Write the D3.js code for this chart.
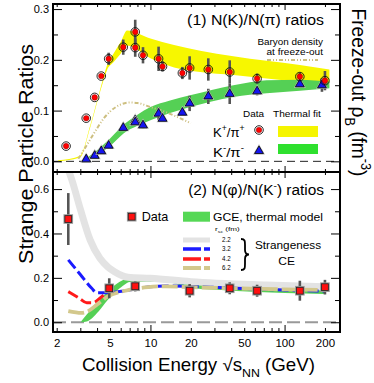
<!DOCTYPE html>
<html>
<head>
<meta charset="utf-8">
<script src="https://cdn.jsdelivr.net/npm/d3@7"></script>
<style>
body { margin: 0; background: #fff; }
text { font-family: "Liberation Sans", Arial, Helvetica, sans-serif; }
</style>
</head>
<body>
<svg id="chart" width="374" height="383"></svg>
<script>
// ---- data ----
// panel 1: K+/pi+ (circles) and K-/pi- (triangles)
var kpE   = [2.35, 3.32, 3.84, 4.3, 4.88, 6.27, 7.7, 7.7, 8.8, 11.5, 12.3, 17.3, 19.6, 27, 39, 62.4, 130, 200];
var kpVal = [0.030, 0.085, 0.126, 0.168, 0.202, 0.225, 0.255, 0.224, 0.209, 0.202, 0.187, 0.174, 0.184, 0.181, 0.176, 0.163, 0.167, 0.159];
var kpErr = [0, 0, 0, 0, 0.012, 0.015, 0.024, 0.018, 0.016, 0.024, 0.01, 0.012, 0.023, 0.022, 0.023, 0.01, 0.008, 0.019];

var kmE   = [3.32, 3.84, 4.3, 4.88, 6.27, 7.7, 7.7, 8.8, 11.5, 12.3, 17.3, 19.6, 27, 39, 62.4, 130, 190];
var kmVal = [0.004, 0.011, 0.020, 0.031, 0.066, 0.081, 0.077, 0.071, 0.094, 0.084, 0.096, 0.114, 0.128, 0.133, 0.138, 0.152, 0.150];
var kmErr = [0, 0, 0, 0, 0.005, 0.008, 0, 0.006, 0.012, 0.006, 0.006, 0.015, 0.015, 0.02, 0.008, 0, 0.013];

// thermal fit bands, panel 1
var yelE  = [2.05, 3.0, 3.55, 4.3, 4.75, 5.3, 6.0, 6.7, 10, 15, 23.5, 41.5, 73.5, 130, 216];
var yelLo = [0, 0.008, 0.066, 0.145, 0.180, 0.195, 0.212, 0.228, 0.203, 0.185, 0.176, 0.170, 0.163, 0.157, 0.155];
var yelHi = [0.002, 0.011, 0.070, 0.150, 0.190, 0.212, 0.235, 0.258, 0.242, 0.229, 0.218, 0.207, 0.198, 0.190, 0.181];

var grnE  = [3.15, 4.0, 5.0, 6.3, 8.0, 10, 14, 19.7, 41.5, 73.5, 130, 216];
var grnLo = [0, 0.012, 0.030, 0.055, 0.070, 0.081, 0.095, 0.107, 0.127, 0.134, 0.139, 0.144];
var grnHi = [0.002, 0.022, 0.045, 0.072, 0.092, 0.107, 0.120, 0.130, 0.150, 0.160, 0.161, 0.157];

// baryon density at freeze-out (drawn on the left scale)
var rhoE   = [2.9, 3.5, 4.0, 4.5, 5.0, 6.0, 7.0, 8.0, 10, 13, 16, 20];
var rhoVal = [0.005, 0.040, 0.065, 0.085, 0.098, 0.112, 0.116, 0.115, 0.107, 0.097, 0.087, 0.075];

// panel 2: phi/K- data
var phiE   = [2.44, 4.93, 7.7, 19.6, 39, 62.4, 130, 200];
var phiVal = [0.465, 0.153, 0.162, 0.142, 0.153, 0.142, 0.142, 0.158];
var phiErr = [0.117, 0.045, 0.023, 0.03, 0.027, 0.027, 0.045, 0.033];

// GCE thermal model band
var gceE  = [3.05, 3.35, 4.1, 4.8, 5.9, 7.2, 12.8, 20, 40, 100, 200];
var gceLo = [0.0, 0.003, 0.048, 0.100, 0.153, 0.183, 0.183, 0.155, 0.142, 0.132, 0.127];
var gceHi = [0.005, 0.035, 0.093, 0.138, 0.182, 0.203, 0.198, 0.180, 0.165, 0.152, 0.143];

// strangeness canonical curves, r_sc = 2.2, 3.2, 4.2, 6.2 fm
var ce22E = [2.2, 2.4, 2.6, 3.0, 3.55, 4.2, 4.8, 5.4, 6.8, 10, 20, 73, 200];
var ce22V = [0.76, 0.70, 0.64, 0.51, 0.371, 0.288, 0.25, 0.228, 0.203, 0.198, 0.183, 0.168, 0.160];
var ce32E = [2.44, 3.0, 3.65, 3.98, 4.78, 6.5, 9.3, 13, 28, 50, 88, 200];
var ce32V = [0.281, 0.215, 0.153, 0.133, 0.133, 0.142, 0.158, 0.163, 0.158, 0.152, 0.146, 0.140];
var ce42E = [2.44, 2.95, 3.35, 3.72, 4.33, 4.7, 5.2];
var ce42V = [0.138, 0.108, 0.088, 0.088, 0.115, 0.130, 0.135];
var ce62E = [2.44, 3.05, 3.43, 4.0, 4.78, 6.5, 9.6, 13, 20, 41, 100, 200];
var ce62V = [0.050, 0.042, 0.050, 0.080, 0.115, 0.142, 0.158, 0.162, 0.158, 0.153, 0.148, 0.145];

var rscLabels = ["2.2", "3.2", "4.2", "6.2"];

// ticks
var xLabelTicks = [2, 5, 10, 20, 50, 100, 200];
var xMinorTicks = [2, 3, 4, 5, 6, 7, 8, 9, 20, 30, 40, 50, 60, 70, 80, 90, 200];
var xMajorTicks = [10, 100];
var yTopMajor = [0, 0.1, 0.2, 0.3], yTopMinor = [0.05, 0.15, 0.25];
var yBotMajor = [0, 0.2, 0.4, 0.6], yBotMinor = [0.1, 0.3, 0.5];

// ---- layout ----
var L = 53, R = 340, T = 4, MID = 172, B = 332;
var svg = d3.select("#chart");
svg.append("rect").attr("width", 374).attr("height", 383).attr("fill", "#fff");

var x = d3.scaleLog().domain([1.877, 259]).range([L, R]);
var yTop = d3.scaleLinear().domain([-0.021, 0.31]).range([MID, T]);
var yBot = d3.scaleLinear().domain([-0.044, 0.677]).range([B, MID]);

var defs = svg.append("defs");
defs.append("clipPath").attr("id", "clipTop").append("rect")
  .attr("x", L).attr("y", T).attr("width", R - L).attr("height", MID - T);
defs.append("clipPath").attr("id", "clipBot").append("rect")
  .attr("x", L).attr("y", MID).attr("width", R - L).attr("height", B - MID);

var colYellow = "#f7f700", colGreen = "#55d055", colKhaki = "#d3c88c";

function zip(E, a, b) {
  return E.map(function(e, i) { return {e: e, a: a[i], b: b ? b[i] : 0}; });
}

function band(g, y, E, lo, hi, fill) {
  g.append("path").datum(zip(E, lo, hi))
    .attr("d", d3.area().x(function(d) { return x(d.e); })
      .y0(function(d) { return y(d.a); }).y1(function(d) { return y(d.b); })
      .curve(d3.curveMonotoneX))
    .attr("fill", fill);
}

function curve(g, y, E, v, stroke, w, dash) {
  g.append("path").datum(zip(E, v))
    .attr("d", d3.line().x(function(d) { return x(d.e); }).y(function(d) { return y(d.a); })
      .curve(d3.curveMonotoneX))
    .attr("fill", "none").attr("stroke", stroke).attr("stroke-width", w)
    .attr("stroke-dasharray", dash || null);
}

function errBars(g, y, E, v, err) {
  g.selectAll(null).data(zip(E, v, err).filter(function(d) { return d.b > 0; }))
    .join("line")
    .attr("x1", function(d) { return x(d.e); }).attr("x2", function(d) { return x(d.e); })
    .attr("y1", function(d) { return y(d.a - d.b); }).attr("y2", function(d) { return y(d.a + d.b); })
    .attr("stroke", "#555").attr("stroke-width", 2.6);
}

function circleMark(g, cx, cy) {
  g.append("circle").attr("cx", cx).attr("cy", cy).attr("r", 4.3)
    .attr("fill", "none").attr("stroke", "#111").attr("stroke-width", 0.9);
  g.append("circle").attr("cx", cx).attr("cy", cy).attr("r", 2.8)
    .attr("fill", "#ff0000").attr("stroke", "#700").attr("stroke-width", 0.4);
}

var tri = d3.symbol().type(d3.symbolTriangle);
function triMark(g, cx, cy) {
  g.append("path").attr("d", tri.size(62)()).attr("transform", "translate(" + cx + "," + cy + ")")
    .attr("fill", "#bbb");
  g.append("path").attr("d", tri.size(34)()).attr("transform", "translate(" + cx + "," + cy + ")")
    .attr("fill", "#1515f0").attr("stroke", "#000").attr("stroke-width", 0.8);
}

function squareMark(g, cx, cy) {
  g.append("rect").attr("x", cx - 4.8).attr("y", cy - 4.8).attr("width", 9.6).attr("height", 9.6)
    .attr("fill", "#9a9a9a");
  g.append("rect").attr("x", cx - 3.4).attr("y", cy - 3.4).attr("width", 6.8).attr("height", 6.8)
    .attr("fill", "#ff1010").attr("stroke", "#222").attr("stroke-width", 0.8);
}

// rich text: parts are strings or {t, sub|sup}; width stretches text along its baseline
function label(px, py, parts, o) {
  var g = svg.append("g").attr("transform", "translate(" + px + "," + py + ")");
  var t = g.append("text").attr("font-size", o.size).attr("text-anchor", o.anchor || "start")
    .attr("fill", "#000");
  var shift = 0;
  parts.forEach(function(p) {
    var s = typeof p === "string" ? {t: p} : p;
    var target = s.sub ? o.size * 0.32 : (s.sup ? -o.size * 0.42 : 0);
    var sp = t.append("tspan").text(s.t).attr("dy", target - shift);
    if (s.sub || s.sup) sp.attr("font-size", o.size * 0.66);
    shift = target;
  });
  var sx = 1;
  if (o.width) sx = o.width / t.node().getBBox().width;
  t.attr("transform", "rotate(" + (o.rot || 0) + ") scale(" + sx + ",1)");
  return t;
}

// ---- panel 1 ----
var topG = svg.append("g").attr("clip-path", "url(#clipTop)");
topG.append("line").attr("x1", L).attr("x2", R).attr("y1", yTop(0)).attr("y2", yTop(0))
  .attr("stroke", "#222").attr("stroke-width", 1).attr("stroke-dasharray", "8,5");
band(topG, yTop, yelE, yelLo, yelHi, colYellow);
band(topG, yTop, grnE, grnLo, grnHi, colGreen);
curve(topG, yTop, rhoE, rhoVal, "#cdbf80", 2, "4,2,1,2,1,2");
errBars(topG, yTop, kpE, kpVal, kpErr);
errBars(topG, yTop, kmE, kmVal, kmErr);
kmE.forEach(function(e, i) { triMark(topG, x(e), yTop(kmVal[i])); });
kpE.forEach(function(e, i) { circleMark(topG, x(e), yTop(kpVal[i])); });

// ---- panel 2 ----
var botG = svg.append("g").attr("clip-path", "url(#clipBot)");
botG.append("line").attr("x1", L).attr("x2", R).attr("y1", yBot(0)).attr("y2", yBot(0))
  .attr("stroke", "#999").attr("stroke-width", 2).attr("stroke-dasharray", "13,5");
band(botG, yBot, gceE, gceLo, gceHi, colGreen);
curve(botG, yBot, ce22E, ce22V, "#e3e3e3", 7);
curve(botG, yBot, ce42E, ce42V, "#ff1a1a", 3, "11,4");
curve(botG, yBot, ce32E, ce32V, "#1a1aff", 3, "11,4");
curve(botG, yBot, ce62E, ce62V, colKhaki, 3.8, "16,4");
errBars(botG, yBot, phiE, phiVal, phiErr);
phiE.forEach(function(e, i) { squareMark(botG, x(e), yBot(phiVal[i])); });

// ---- axes ----
function styleAxis(g) {
  g.select(".domain").remove();
  g.selectAll("line").attr("stroke", "#000").attr("stroke-width", 1);
  g.attr("font-family", "Liberation Sans, Arial, sans-serif").attr("font-size", 11);
  g.selectAll("text").attr("fill", "#000");
}
function yAxes(y, majors, minors) {
  svg.append("g").attr("transform", "translate(" + L + ",0)")
    .call(d3.axisLeft(y).tickValues(majors).tickSize(-9).tickPadding(4).tickFormat(d3.format(".1f")))
    .call(styleAxis);
  svg.append("g").attr("transform", "translate(" + L + ",0)")
    .call(d3.axisLeft(y).tickValues(minors).tickSize(-5).tickFormat("")).call(styleAxis);
  svg.append("g").attr("transform", "translate(" + R + ",0)")
    .call(d3.axisRight(y).tickValues(majors).tickSize(-9).tickFormat("")).call(styleAxis);
  svg.append("g").attr("transform", "translate(" + R + ",0)")
    .call(d3.axisRight(y).tickValues(minors).tickSize(-5).tickFormat("")).call(styleAxis);
}
yAxes(yTop, yTopMajor, yTopMinor);
yAxes(yBot, yBotMajor, yBotMinor);

function xTicks(axisFn, yPos, vals, size) {
  svg.append("g").attr("transform", "translate(0," + yPos + ")")
    .call(axisFn(x).tickValues(vals).tickSize(size).tickFormat("")).call(styleAxis);
}
xTicks(d3.axisTop, T, xMinorTicks, -3);
xTicks(d3.axisTop, T, xMajorTicks, -6);
xTicks(d3.axisTop, MID, xMinorTicks, 3);
xTicks(d3.axisBottom, MID, xMinorTicks, 3);
xTicks(d3.axisTop, MID, xMajorTicks, 6);
xTicks(d3.axisBottom, MID, xMajorTicks, 6);
xTicks(d3.axisBottom, B, xMinorTicks, -4);
xTicks(d3.axisBottom, B, xMajorTicks, -7);
svg.append("g").attr("transform", "translate(0," + B + ")")
  .call(d3.axisBottom(x).tickValues(xLabelTicks).tickSize(0).tickPadding(6.5).tickFormat(d3.format("d")))
  .call(styleAxis).attr("font-size", 11.5);

// frame
svg.append("rect").attr("x", L).attr("y", T).attr("width", R - L).attr("height", B - T)
  .attr("fill", "none").attr("stroke", "#000").attr("stroke-width", 2);
svg.append("line").attr("x1", L).attr("x2", R).attr("y1", MID).attr("y2", MID)
  .attr("stroke", "#000").attr("stroke-width", 2);

// ---- panel texts and legends ----
label(324, 25, ["(1) N(K)/N(\u03c0) ratios"], {size: 13.8, anchor: "end", width: 137});
label(323, 45, ["Baryon density"], {size: 9.3, anchor: "end", width: 66});
label(323, 55, ["at freeze-out"], {size: 9.3, anchor: "end", width: 57});
svg.append("line").attr("x1", 267).attr("x2", 318).attr("y1", 60).attr("y2", 60)
  .attr("stroke", "#cdbf80").attr("stroke-width", 2).attr("stroke-dasharray", "4,2,1,2,1,2");

label(243, 117, ["Data"], {size: 9.5, width: 21.7});
label(273, 117, ["Thermal fit"], {size: 9.5, width: 48.3});
label(213, 137, ["K", {t: "+", sup: true}, "/\u03c0", {t: "+", sup: true}], {size: 13.5, width: 31.7});
label(213, 157, ["K", {t: "-", sup: true}, "/\u03c0", {t: "-", sup: true}], {size: 13.5, width: 31});
circleMark(svg, 259, 130);
triMark(svg, 259, 151);
svg.append("rect").attr("x", 278).attr("y", 126).attr("width", 40).attr("height", 11).attr("fill", "#f5f500");
svg.append("rect").attr("x", 278).attr("y", 144).attr("width", 40).attr("height", 10).attr("fill", "#2ee02e");

label(324, 195, ["(2) N(\u03c6)/N(K", {t: "-", sup: true}, ") ratios"], {size: 13.8, anchor: "end", width: 136});
squareMark(svg, 131.7, 216.7);
label(141.7, 221, ["Data"], {size: 12.6, width: 26.7});
svg.append("rect").attr("x", 183).attr("y", 211.7).attr("width", 27).attr("height", 10).attr("fill", "#55d855");
label(213, 221, ["GCE, thermal model"], {size: 11.6, width: 110});
label(215, 231, ["r", {t: "sc", sub: true}, " (fm)"], {size: 5.5, width: 25});

var legY = [240, 249, 259, 268];
var legStyle = [["#e3e3e3", 5, null], ["#1a1aff", 3.3, "18,3"], ["#ff1a1a", 3.3, "18,3"], [colKhaki, 3.8, "18,3"]];
legY.forEach(function(yy, i) {
  svg.append("line").attr("x1", 183).attr("x2", 210).attr("y1", yy).attr("y2", yy)
    .attr("stroke", legStyle[i][0]).attr("stroke-width", legStyle[i][1])
    .attr("stroke-dasharray", legStyle[i][2]);
  label(222, yy + 2.3, [rscLabels[i]], {size: 6.5, width: 9});
});
svg.append("path")
  .attr("d", "M241,239 C245,239 245,241 245,245 L245,250 C245,253 246,254.5 249,254.5 " +
             "C246,254.5 245,256 245,259 L245,264 C245,268 245,270 241,270")
  .attr("fill", "none").attr("stroke", "#000").attr("stroke-width", 1.8);
label(255, 249, ["Strangeness"], {size: 11, width: 66.7});
label(286.7, 265, ["CE"], {size: 11, anchor: "middle", width: 16.7});

// ---- axis titles ----
label(33, 154, ["Strange Particle Ratios"], {size: 21, anchor: "middle", rot: -90, width: 220});
label(352, 92.5, ["Freeze-out \u03c1", {t: "B", sub: true}, " (fm", {t: "-3", sup: true}, ")"],
  {size: 21, anchor: "middle", rot: 90, width: 168});
label(198.5, 371, ["Collision Energy \u221as", {t: "NN", sub: true}, " (GeV)"],
  {size: 17.5, anchor: "middle", width: 233});
</script>
</body>
</html>
